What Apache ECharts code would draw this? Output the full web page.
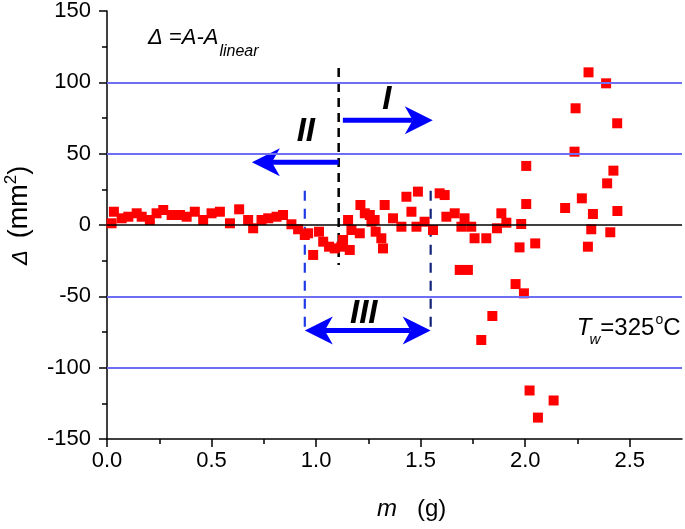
<!DOCTYPE html>
<html><head><meta charset="utf-8">
<script src="https://cdn.jsdelivr.net/npm/echarts@6/dist/echarts.min.js"></script>
<style>html,body{margin:0;padding:0;background:#fff}#c{width:685px;height:529px}</style>
</head><body><div id="c"></div>
<script>
// ---- data ----
const mValues = [0.022,0.033,0.070,0.102,0.142,0.166,0.205,0.237,0.269,0.309,0.349,0.381,0.420,0.460,0.500,0.540,0.588,0.632,0.675,0.699,0.739,0.771,0.811,0.842,0.882,0.914,
 0.946,0.962,0.986,1.014,1.034,1.062,1.089,1.121,1.129,1.153,1.161,1.169,1.209,1.212,1.233,1.257,1.265,1.280,1.285,1.312,1.320,1.328,1.368,1.408,1.432,1.456,1.480,1.487,1.519,1.559,
 1.591,1.615,1.623,1.663,1.687,1.695,1.710,1.726,1.742,1.758,1.790,1.814,1.843,1.865,1.886,1.910,1.954,1.973,1.981,1.994,2.005,2.005,2.021,2.048,2.061,2.136,
 2.191,2.236,2.241,2.271,2.300,2.303,2.316,2.324,2.387,2.392,2.407,2.422,2.440,2.441];
const deltaValues = [1.2,9.3,4.7,5.8,8.2,5.8,3.5,8.2,10.5,7.0,7.0,5.8,9.3,3.5,8.2,9.3,1.2,11.0,3.5,-2.3,3.5,4.7,5.8,7.0,0.5,-3.0,
 -7.0,-5.8,-21,-4.7,-11.7,-15.2,-16.4,-15.2,-10.5,3.5,-17.5,-3.5,-5.8,14.0,8.2,7.0,2.3,3.5,-4.7,-9.3,-16.4,14.0,4.7,-1.2,19.8,9.3,-1.2,23.4,2.3,-3.5,
 22.2,21.0,5.8,8.2,-31.5,-1.2,4.7,-31.5,-1.2,-9.3,-80.6,-9.3,-63.8,-2.3,8.2,1.6,-41.4,-15.7,0.7,-47.9,41.4,14.7,-116,-12.9,-135,-123,
 11.9,51.4,81.8,18.7,-15.2,107,-3.0,7.7,99.3,29.2,-5.1,38.1,71.3,9.8];
const xTickValues = [0, 0.5, 1.0, 1.5, 2.0, 2.5];
const yTickValues = [-150, -100, -50, 0, 50, 100, 150];
const blueRefLines = [100, 50, -50, -100];
const zeroRefLine = [0];
// vertical dashed lines: [x, yTop, yBottom]
const blackDashed = [[1.108, 110, -28]];
const blueDashed = [[0.946, 24, -76]];
const navyDashed = [[1.548, 24, -76]];
// arrows: [xFrom, yFrom, xTo, yTo, doubleHeaded]
const arrows = [[1.128, 73.5, 1.558, 73.5, 0], [1.108, 44, 0.693, 44, 0], [0.946, -74, 1.548, -74, 1]];
// region labels: [x, y, text]
const regionLabels = [[1.338, 87.5, 'I'], [0.951, 65, 'II'], [1.228, -62, 'III']];

const FONT = "'Liberation Sans', Arial, sans-serif";
const chart = echarts.init(document.getElementById('c'), null, {renderer: 'canvas'});

function arrowShapes(api, item) {
  const a = api.coord([item[0], item[1]]), b = api.coord([item[2], item[3]]);
  const dx = b[0] - a[0], dy = b[1] - a[1], len = Math.hypot(dx, dy);
  const ux = dx / len, uy = dy / len, nx = -uy, ny = ux;
  const L = 28, W = 14, N = 8;
  function head(tip, sx, sy) {
    return [[tip[0], tip[1]],
      [tip[0] - sx * L + nx * W, tip[1] - sy * L + ny * W],
      [tip[0] - sx * (L - N), tip[1] - sy * (L - N)],
      [tip[0] - sx * L - nx * W, tip[1] - sy * L - ny * W]];
  }
  const children = [];
  let start = a, end = [b[0] - ux * (L - N), b[1] - uy * (L - N)];
  children.push({type: 'polygon', shape: {points: head(b, ux, uy)}, style: {fill: '#0000ff'}});
  if (item[4]) {
    start = [a[0] + ux * (L - N), a[1] + uy * (L - N)];
    children.push({type: 'polygon', shape: {points: head(a, -ux, -uy)}, style: {fill: '#0000ff'}});
  }
  children.push({type: 'line', shape: {x1: start[0], y1: start[1], x2: end[0], y2: end[1]}, style: {stroke: '#0000ff', lineWidth: 5}});
  return {type: 'group', children};
}
function vline(color, width, dash) {
  return function (params, api) {
    const a = api.coord([api.value(0), api.value(1)]), b = api.coord([api.value(0), api.value(2)]);
    return {type: 'line', shape: {x1: a[0], y1: a[1], x2: b[0], y2: b[1]}, style: {stroke: color, lineWidth: width, lineDash: dash}};
  };
}

const option = {
  animation: false,
  backgroundColor: '#fff',
  grid: {left: 107, top: 11, right: 3, bottom: 90, containLabel: false},
  xAxis: {
    type: 'value', min: 0, max: 2.75, interval: 0.5,
    axisLine: {show: true, onZero: false, lineStyle: {color: '#000', width: 1.5}},
    axisTick: {show: true, inside: false, length: 8, lineStyle: {color: '#000', width: 1.5}, customValues: xTickValues},
    minorTick: {show: true, splitNumber: 2, length: 5, lineStyle: {color: '#000', width: 1.5}},
    axisLabel: {customValues: xTickValues, margin: 11, fontFamily: FONT, fontSize: 22, color: '#000', formatter: v => v.toFixed(1)},
    splitLine: {show: false}
  },
  yAxis: {
    type: 'value', min: -150, max: 150, interval: 50,
    axisLine: {show: true, onZero: false, lineStyle: {color: '#000', width: 1.5}},
    axisTick: {show: true, inside: false, length: 8, lineStyle: {color: '#000', width: 1.5}, customValues: yTickValues},
    minorTick: {show: true, splitNumber: 2, length: 5, lineStyle: {color: '#000', width: 1.5}},
    axisLabel: {customValues: yTickValues, margin: 16, fontFamily: FONT, fontSize: 22, color: '#000', formatter: v => String(v)},
    splitLine: {show: false}
  },
  series: [
    {type: 'line', data: [], silent: true, z: 1,
      markLine: {silent: true, symbol: 'none', label: {show: false}, animation: false,
        data: blueRefLines.map(v => ({yAxis: v, lineStyle: {color: '#6e6ef5', width: 2, type: 'solid'}}))
          .concat(zeroRefLine.map(v => ({yAxis: v, lineStyle: {color: '#000', width: 1.5, type: 'solid'}})))}},
    {type: 'custom', z: 2, data: blackDashed, renderItem: vline('#000', 2.5, [9, 6]), encode: {x: 0, y: 1}, silent: true},
    {type: 'custom', z: 2, data: blueDashed, renderItem: vline('#1e3ce6', 2.2, [10, 8]), encode: {x: 0, y: 1}, silent: true},
    {type: 'custom', z: 2, data: navyDashed, renderItem: vline('#12237a', 2.2, [10, 8]), encode: {x: 0, y: 1}, silent: true},
    {type: 'scatter', z: 3, symbol: 'rect', symbolSize: 10, itemStyle: {color: '#ff0000', opacity: 1},
      data: mValues.map((m, i) => [m, deltaValues[i]])},
    {type: 'custom', z: 4, data: arrows, silent: true, encode: {x: 0, y: 1},
      renderItem: (params, api) => arrowShapes(api, arrows[params.dataIndex])},
    {type: 'custom', z: 4, data: regionLabels.map(r => [r[0], r[1]]), silent: true, encode: {x: 0, y: 1},
      renderItem: (params, api) => {
        const p = api.coord([api.value(0), api.value(1)]);
        return {type: 'text', x: p[0], y: p[1], style: {text: regionLabels[params.dataIndex][2], font: 'italic bold 33px ' + FONT, fill: '#000', align: 'center', verticalAlign: 'middle'}};
      }}
  ]
};
chart.setOption(option);

// ---- text annotations built from pieces (measured, baseline-aligned) ----
const ctx = document.createElement('canvas').getContext('2d');
function pieces(list) {
  let x = 0; const out = [];
  list.forEach(p => {
    const font = (p.italic ? 'italic ' : '') + p.size + 'px ' + FONT;
    ctx.font = font;
    ctx.textBaseline = 'middle';
    const off = ctx.measureText('H').actualBoundingBoxDescent; // middle -> baseline
    x += (p.dx || 0);
    out.push({type: 'text', x: x, y: (p.dy || 0) - off,
      style: {text: p.t, font: font, fill: '#000', align: 'left', verticalAlign: 'middle'}});
    x += ctx.measureText(p.t).width;
  });
  return out;
}
const topLeft = chart.convertToPixel({gridIndex: 0}, [0.196, 127]);
const twPos = chart.convertToPixel({gridIndex: 0}, [2.247, -77]);
chart.setOption({graphic: [
  {type: 'group', x: topLeft[0], y: topLeft[1], children: pieces([
    {t: 'Δ =A-A', size: 22, italic: true}, {t: 'linear', size: 16, italic: true, dy: 12, dx: 1}])},
  {type: 'group', x: twPos[0], y: twPos[1], children: pieces([
    {t: 'T', size: 24, italic: true}, {t: 'w', size: 15, italic: true, dy: 9, dx: -2},
    {t: '=325', size: 24}, {t: 'o', size: 14, dy: -11, dx: 1}, {t: 'C', size: 24}])},
  {type: 'group', x: 377, y: 516, children: pieces([
    {t: 'm', size: 24, italic: true}, {t: '(g)', size: 24, dx: 20}])},
  {type: 'group', x: 27, y: 265, rotation: Math.PI / 2, children: pieces([
    {t: 'Δ', size: 22, italic: true}, {t: '(mm', size: 27, dx: 12}, {t: '2', size: 17, dy: -11}, {t: ')', size: 27}])}
]});
</script></body></html>
